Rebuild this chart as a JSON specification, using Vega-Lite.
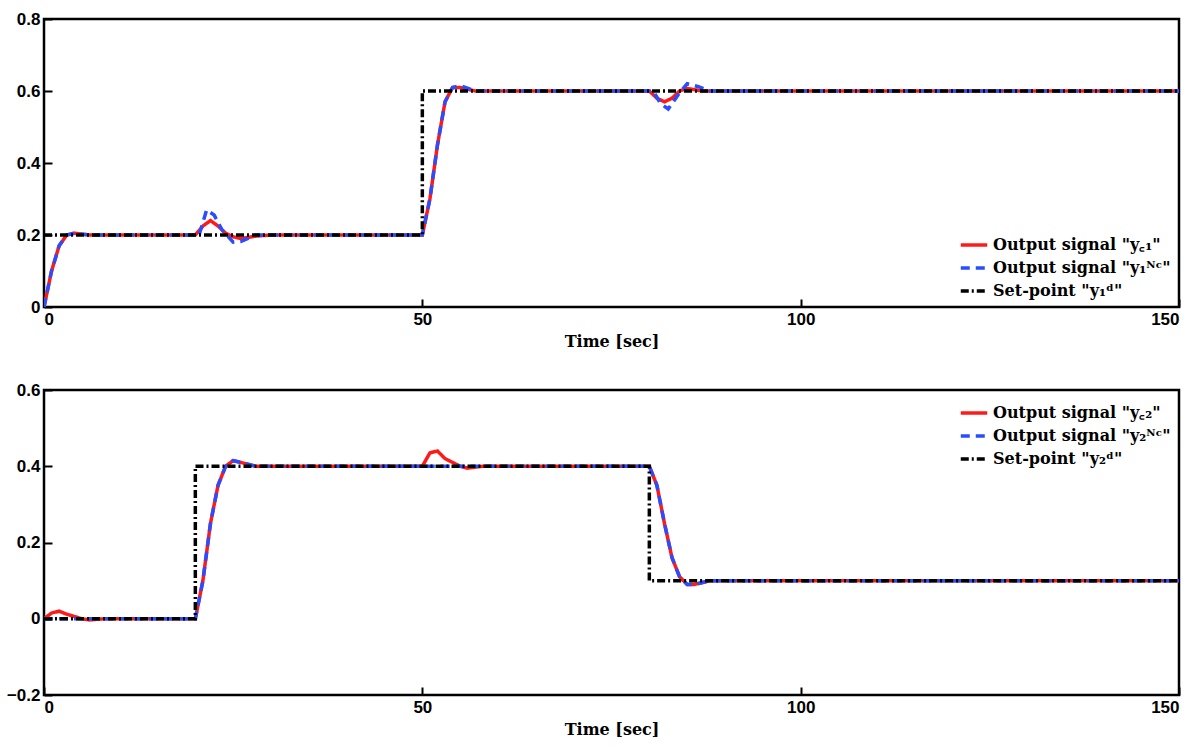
{
"$schema":"https://vega.github.io/schema/vega-lite/v6.json",
"padding":{"left":5,"top":8,"right":10,"bottom":2},
"config":{"view":{"stroke":"black","strokeWidth":2.5},"axis":{"grid":false,"domain":false,"tickSize":-8,"tickColor":"black","tickWidth":2,"labelFont":"Liberation Sans","labelFontWeight":"bold","labelFontSize":17,"labelColor":"black","titleFont":"DejaVu Serif","titleFontSize":16,"titleFontWeight":"bold","titleColor":"black","labelPadding":12,"titlePadding":6},
"legend":{"orient":"bottom-right","title":null,"labelFont":"DejaVu Serif","labelFontWeight":"bold","labelFontSize":16,"symbolType":"stroke","symbolSize":700,"rowPadding":0,"fillColor":"white","padding":4,"offset":4,"labelLimit":400}},
"spacing":28,
"vconcat":[
{"width":1135,"height":288,
"data":{"values":[
{"s":"Output signal \"y꜀₁\"","t":0,"y":0},{"s":"Output signal \"y꜀₁\"","t":1,"y":0.1},{"s":"Output signal \"y꜀₁\"","t":2,"y":0.17},{"s":"Output signal \"y꜀₁\"","t":3,"y":0.2},{"s":"Output signal \"y꜀₁\"","t":4,"y":0.205},{"s":"Output signal \"y꜀₁\"","t":6,"y":0.2},{"s":"Output signal \"y꜀₁\"","t":20,"y":0.2},{"s":"Output signal \"y꜀₁\"","t":21,"y":0.225},{"s":"Output signal \"y꜀₁\"","t":22,"y":0.24},{"s":"Output signal \"y꜀₁\"","t":23,"y":0.225},{"s":"Output signal \"y꜀₁\"","t":24,"y":0.205},{"s":"Output signal \"y꜀₁\"","t":25,"y":0.195},{"s":"Output signal \"y꜀₁\"","t":26,"y":0.19},{"s":"Output signal \"y꜀₁\"","t":28,"y":0.197},{"s":"Output signal \"y꜀₁\"","t":30,"y":0.2},{"s":"Output signal \"y꜀₁\"","t":50,"y":0.2},{"s":"Output signal \"y꜀₁\"","t":51,"y":0.3},{"s":"Output signal \"y꜀₁\"","t":52,"y":0.45},{"s":"Output signal \"y꜀₁\"","t":53,"y":0.57},{"s":"Output signal \"y꜀₁\"","t":54,"y":0.61},{"s":"Output signal \"y꜀₁\"","t":55,"y":0.61},{"s":"Output signal \"y꜀₁\"","t":57,"y":0.6},{"s":"Output signal \"y꜀₁\"","t":80,"y":0.6},{"s":"Output signal \"y꜀₁\"","t":81,"y":0.58},{"s":"Output signal \"y꜀₁\"","t":82,"y":0.57},{"s":"Output signal \"y꜀₁\"","t":83,"y":0.58},{"s":"Output signal \"y꜀₁\"","t":84,"y":0.6},{"s":"Output signal \"y꜀₁\"","t":85,"y":0.607},{"s":"Output signal \"y꜀₁\"","t":87,"y":0.6},{"s":"Output signal \"y꜀₁\"","t":150,"y":0.6},
{"s":"Output signal \"y₁ᴺᶜ\"","t":0,"y":0},{"s":"Output signal \"y₁ᴺᶜ\"","t":1,"y":0.1},{"s":"Output signal \"y₁ᴺᶜ\"","t":2,"y":0.17},{"s":"Output signal \"y₁ᴺᶜ\"","t":3,"y":0.2},{"s":"Output signal \"y₁ᴺᶜ\"","t":4,"y":0.205},{"s":"Output signal \"y₁ᴺᶜ\"","t":6,"y":0.2},{"s":"Output signal \"y₁ᴺᶜ\"","t":20.5,"y":0.2},{"s":"Output signal \"y₁ᴺᶜ\"","t":21.5,"y":0.27},{"s":"Output signal \"y₁ᴺᶜ\"","t":22.5,"y":0.255},{"s":"Output signal \"y₁ᴺᶜ\"","t":23.5,"y":0.215},{"s":"Output signal \"y₁ᴺᶜ\"","t":25,"y":0.18},{"s":"Output signal \"y₁ᴺᶜ\"","t":26,"y":0.182},{"s":"Output signal \"y₁ᴺᶜ\"","t":28,"y":0.2},{"s":"Output signal \"y₁ᴺᶜ\"","t":50,"y":0.2},{"s":"Output signal \"y₁ᴺᶜ\"","t":51,"y":0.3},{"s":"Output signal \"y₁ᴺᶜ\"","t":52,"y":0.45},{"s":"Output signal \"y₁ᴺᶜ\"","t":53,"y":0.57},{"s":"Output signal \"y₁ᴺᶜ\"","t":54,"y":0.61},{"s":"Output signal \"y₁ᴺᶜ\"","t":55,"y":0.615},{"s":"Output signal \"y₁ᴺᶜ\"","t":57,"y":0.6},{"s":"Output signal \"y₁ᴺᶜ\"","t":80.5,"y":0.6},{"s":"Output signal \"y₁ᴺᶜ\"","t":81.5,"y":0.565},{"s":"Output signal \"y₁ᴺᶜ\"","t":82.5,"y":0.55},{"s":"Output signal \"y₁ᴺᶜ\"","t":84,"y":0.595},{"s":"Output signal \"y₁ᴺᶜ\"","t":85,"y":0.62},{"s":"Output signal \"y₁ᴺᶜ\"","t":86.5,"y":0.612},{"s":"Output signal \"y₁ᴺᶜ\"","t":88,"y":0.6},{"s":"Output signal \"y₁ᴺᶜ\"","t":150,"y":0.6},
{"s":"Set-point \"y₁ᵈ\"","t":0,"y":0.2},{"s":"Set-point \"y₁ᵈ\"","t":50,"y":0.2},{"s":"Set-point \"y₁ᵈ\"","t":50,"y":0.6},{"s":"Set-point \"y₁ᵈ\"","t":150,"y":0.6}
]},
"mark":{"type":"line","clip":true},
"encoding":{
"x":{"field":"t","type":"quantitative","scale":{"domain":[0,150]},"axis":{"values":[0,50,100,150],"title":"Time [sec]"}},
"y":{"field":"y","type":"quantitative","scale":{"domain":[0,0.8]},"axis":{"values":[0,0.2,0.4,0.6,0.8],"title":null,"labelExpr":"datum.value==0?'0':format(datum.value,'.1f')"}},
"color":{"field":"s","type":"nominal","sort":null,"scale":{"domain":["Output signal \"y꜀₁\"","Output signal \"y₁ᴺᶜ\"","Set-point \"y₁ᵈ\""],"range":["#ff1a1a","#2a4dff","black"]}},
"strokeDash":{"field":"s","type":"nominal","sort":null,"scale":{"domain":["Output signal \"y꜀₁\"","Output signal \"y₁ᴺᶜ\"","Set-point \"y₁ᵈ\""],"range":[[1,0],[9,6],[8,3,2,3]]}},
"strokeWidth":{"field":"s","type":"nominal","sort":null,"scale":{"domain":["Output signal \"y꜀₁\"","Output signal \"y₁ᴺᶜ\"","Set-point \"y₁ᵈ\""],"range":[3.5,3.5,1.6]}}
}},
{"width":1135,"height":305,
"data":{"values":[
{"s":"Output signal \"y꜀₂\"","t":0,"y":0},{"s":"Output signal \"y꜀₂\"","t":1,"y":0.015},{"s":"Output signal \"y꜀₂\"","t":2,"y":0.02},{"s":"Output signal \"y꜀₂\"","t":3,"y":0.012},{"s":"Output signal \"y꜀₂\"","t":5,"y":0},{"s":"Output signal \"y꜀₂\"","t":6,"y":-0.003},{"s":"Output signal \"y꜀₂\"","t":8,"y":0},{"s":"Output signal \"y꜀₂\"","t":20,"y":0},{"s":"Output signal \"y꜀₂\"","t":21,"y":0.1},{"s":"Output signal \"y꜀₂\"","t":22,"y":0.25},{"s":"Output signal \"y꜀₂\"","t":23,"y":0.35},{"s":"Output signal \"y꜀₂\"","t":24,"y":0.4},{"s":"Output signal \"y꜀₂\"","t":25,"y":0.415},{"s":"Output signal \"y꜀₂\"","t":26,"y":0.41},{"s":"Output signal \"y꜀₂\"","t":28,"y":0.4},{"s":"Output signal \"y꜀₂\"","t":50,"y":0.4},{"s":"Output signal \"y꜀₂\"","t":51,"y":0.435},{"s":"Output signal \"y꜀₂\"","t":52,"y":0.44},{"s":"Output signal \"y꜀₂\"","t":53,"y":0.42},{"s":"Output signal \"y꜀₂\"","t":55,"y":0.4},{"s":"Output signal \"y꜀₂\"","t":56,"y":0.395},{"s":"Output signal \"y꜀₂\"","t":58,"y":0.4},{"s":"Output signal \"y꜀₂\"","t":80,"y":0.4},{"s":"Output signal \"y꜀₂\"","t":81,"y":0.35},{"s":"Output signal \"y꜀₂\"","t":82,"y":0.25},{"s":"Output signal \"y꜀₂\"","t":83,"y":0.16},{"s":"Output signal \"y꜀₂\"","t":84,"y":0.11},{"s":"Output signal \"y꜀₂\"","t":85,"y":0.09},{"s":"Output signal \"y꜀₂\"","t":86,"y":0.09},{"s":"Output signal \"y꜀₂\"","t":88,"y":0.1},{"s":"Output signal \"y꜀₂\"","t":150,"y":0.1},
{"s":"Output signal \"y₂ᴺᶜ\"","t":0,"y":0},{"s":"Output signal \"y₂ᴺᶜ\"","t":20,"y":0},{"s":"Output signal \"y₂ᴺᶜ\"","t":21,"y":0.1},{"s":"Output signal \"y₂ᴺᶜ\"","t":22,"y":0.25},{"s":"Output signal \"y₂ᴺᶜ\"","t":23,"y":0.35},{"s":"Output signal \"y₂ᴺᶜ\"","t":24,"y":0.4},{"s":"Output signal \"y₂ᴺᶜ\"","t":25,"y":0.415},{"s":"Output signal \"y₂ᴺᶜ\"","t":26,"y":0.41},{"s":"Output signal \"y₂ᴺᶜ\"","t":28,"y":0.4},{"s":"Output signal \"y₂ᴺᶜ\"","t":80,"y":0.4},{"s":"Output signal \"y₂ᴺᶜ\"","t":81,"y":0.35},{"s":"Output signal \"y₂ᴺᶜ\"","t":82,"y":0.25},{"s":"Output signal \"y₂ᴺᶜ\"","t":83,"y":0.16},{"s":"Output signal \"y₂ᴺᶜ\"","t":84,"y":0.11},{"s":"Output signal \"y₂ᴺᶜ\"","t":85,"y":0.09},{"s":"Output signal \"y₂ᴺᶜ\"","t":86,"y":0.09},{"s":"Output signal \"y₂ᴺᶜ\"","t":88,"y":0.1},{"s":"Output signal \"y₂ᴺᶜ\"","t":150,"y":0.1},
{"s":"Set-point \"y₂ᵈ\"","t":0,"y":0},{"s":"Set-point \"y₂ᵈ\"","t":20,"y":0},{"s":"Set-point \"y₂ᵈ\"","t":20,"y":0.4},{"s":"Set-point \"y₂ᵈ\"","t":80,"y":0.4},{"s":"Set-point \"y₂ᵈ\"","t":80,"y":0.1},{"s":"Set-point \"y₂ᵈ\"","t":150,"y":0.1}
]},
"mark":{"type":"line","clip":true},
"encoding":{
"x":{"field":"t","type":"quantitative","scale":{"domain":[0,150]},"axis":{"values":[0,50,100,150],"title":"Time [sec]"}},
"y":{"field":"y","type":"quantitative","scale":{"domain":[-0.2,0.6]},"axis":{"values":[-0.2,0,0.2,0.4,0.6],"title":null,"labelExpr":"datum.value==0?'0':format(datum.value,'.1f')"}},
"color":{"field":"s","type":"nominal","sort":null,"legend":{"orient":"top-right"},"scale":{"domain":["Output signal \"y꜀₂\"","Output signal \"y₂ᴺᶜ\"","Set-point \"y₂ᵈ\""],"range":["#ff1a1a","#2a4dff","black"]}},
"strokeDash":{"field":"s","type":"nominal","sort":null,"legend":{"orient":"top-right"},"scale":{"domain":["Output signal \"y꜀₂\"","Output signal \"y₂ᴺᶜ\"","Set-point \"y₂ᵈ\""],"range":[[1,0],[9,6],[8,3,2,3]]}},
"strokeWidth":{"field":"s","type":"nominal","sort":null,"legend":{"orient":"top-right"},"scale":{"domain":["Output signal \"y꜀₂\"","Output signal \"y₂ᴺᶜ\"","Set-point \"y₂ᵈ\""],"range":[3.5,3.5,1.6]}}
}}
],
"resolve":{"scale":{"color":"independent","strokeDash":"independent","strokeWidth":"independent"},"legend":{"color":"independent","strokeDash":"independent","strokeWidth":"independent"}}
}
